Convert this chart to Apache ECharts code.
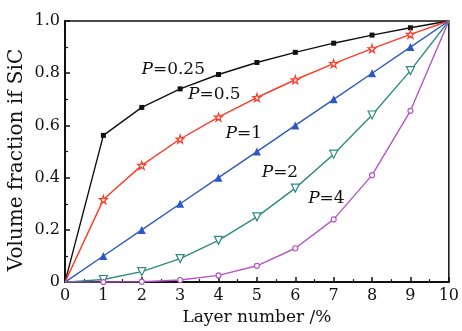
<!DOCTYPE html>
<html><head><meta charset="utf-8">
<script src="https://cdn.jsdelivr.net/npm/echarts@6/dist/echarts.min.js"></script>
<style>html,body{margin:0;padding:0;background:#fff}#c{width:462px;height:331px}</style>
</head><body><div id="c"></div>
<script>
const layers = [0,1,2,3,4,5,6,7,8,9,10];
const p025 = [0,0.562,0.669,0.740,0.795,0.841,0.880,0.915,0.946,0.974,1];
const p05  = [0,0.316,0.447,0.548,0.632,0.707,0.775,0.837,0.894,0.949,1];
const p1   = [0,0.1,0.2,0.3,0.4,0.5,0.6,0.7,0.8,0.9,1];
const p2   = [0,0.01,0.04,0.09,0.16,0.25,0.36,0.49,0.64,0.81,1];
const p4   = [0,0.0001,0.0016,0.0081,0.0256,0.0625,0.1296,0.2401,0.4096,0.6561,1];
const labels = ['P=0.25','P=0.5','P=1','P=2','P=4'];
const labelPos = [[2.82,0.815],[3.89,0.717],[4.66,0.57],[5.6,0.42],[6.81,0.32]];

const FONT = '"DejaVu Serif","Liberation Serif",serif';
function mk(vals){ return vals.map((v,i)=>({value:[layers[i],v], symbol:(i===0||i===layers.length-1)?'none':undefined})); }
const defs = [
  {d:p025,c:'#111111',s:'rect',sz:5,fill:true},
  {d:p05,c:'#ff3a26',s:'path://M50,0 L61,35 L98,35 L68,57 L79,91 L50,70 L21,91 L32,57 L2,35 L39,35 Z',sz:8,fill:false},
  {d:p1,c:'#2f57c4',s:'triangle',sz:8,fill:true},
  {d:p2,c:'#2e8b84',s:'path://M0,0 L100,0 L50,90 Z',sz:8,fill:false},
  {d:p4,c:'#b356c6',s:'circle',sz:5,fill:false}
];
const chart = echarts.init(document.getElementById('c'));
const option = {
  animation:false,
  grid:{left:65,right:11,top:21,bottom:45,show:true,borderColor:'#111',borderWidth:1.5,backgroundColor:'transparent'},
  xAxis:{type:'value',min:0,max:10,interval:1,
    name:'Layer number /%',nameLocation:'middle',nameGap:25,
    nameTextStyle:{fontFamily:FONT,fontSize:17,color:'#111'},
    axisLine:{show:true,lineStyle:{color:'#111',width:2}},
    axisTick:{show:true,inside:true,length:5,lineStyle:{color:'#111',width:1.5}},
    minorTick:{show:true,splitNumber:2,length:3,lineStyle:{color:'#111',width:1.2}},
    splitLine:{show:false},
    axisLabel:{fontFamily:FONT,fontSize:16,color:'#111',margin:6}},
  yAxis:{type:'value',min:0,max:1,interval:0.2,
    axisLine:{show:true,lineStyle:{color:'#111',width:2}},
    axisTick:{show:true,inside:true,length:5,lineStyle:{color:'#111',width:1.5}},
    minorTick:{show:true,splitNumber:2,length:3,lineStyle:{color:'#111',width:1.2}},
    splitLine:{show:false},
    axisLabel:{fontFamily:FONT,fontSize:16,color:'#111',margin:5,
      formatter:v=>v===0?'0':v.toFixed(1)}},
  series: defs.map(o=>({type:'line',data:mk(o.d),symbol:o.s,symbolSize:o.sz,showSymbol:true,
    lineStyle:{color:o.c,width:1.4},
    itemStyle:{color:o.fill?o.c:'#fff',borderColor:o.c,borderWidth:o.fill?0:1.2},
    emphasis:{disabled:true}}))
};
chart.setOption(option);
const g = labels.map((t,i)=>{
  const p = chart.convertToPixel({gridIndex:0}, labelPos[i]);
  const parts = t.split('=');
  return {type:'text',x:p[0],y:p[1],style:{
    text:'{i|'+parts[0]+'}{n|='+parts[1]+'}',
    rich:{i:{fontFamily:FONT,fontSize:17,fontStyle:'italic',fill:'#111'},n:{fontFamily:FONT,fontSize:17,fill:'#111'}},
    align:'center',verticalAlign:'middle'}};
});
g.push({type:'text',x:17,y:160,rotation:Math.PI/2,style:{text:'Volume fraction if SiC',
  fontFamily:FONT,fontSize:20,fill:'#111',align:'center',verticalAlign:'middle'}});
chart.setOption({graphic:g});
</script></body></html>
